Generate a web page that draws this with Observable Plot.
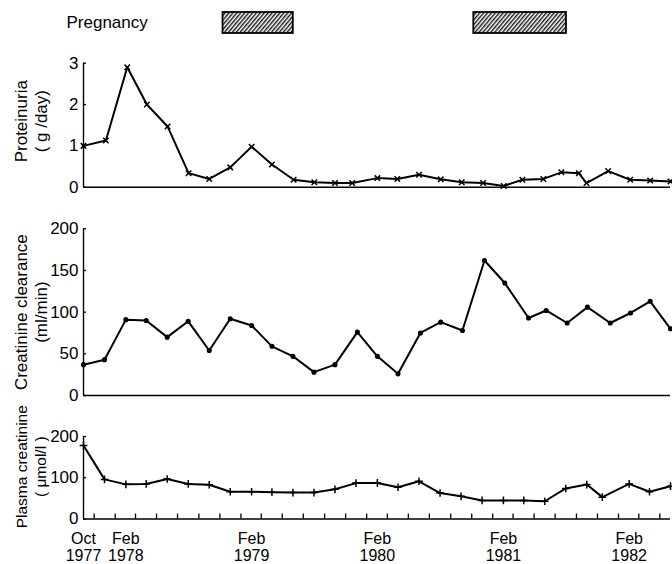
<!DOCTYPE html>
<html><head><meta charset="utf-8">
<script src="https://cdn.jsdelivr.net/npm/d3@7"></script>
<script src="https://cdn.jsdelivr.net/npm/@observablehq/plot@0.6"></script>
<style>
body{margin:0;background:#fff;}
#wrap{position:relative;width:672px;height:564px;font-family:"Liberation Sans",Arial,sans-serif;}
#wrap svg{position:absolute;left:0;overflow:visible;}
</style></head><body><div id="wrap"></div>
<script>
// ---- data ----
const xDomainStr = ["1977-10-01", "1982-06-01"];
const pregStart = ["1978-11-10", "1980-11-07"];
const pregEnd   = ["1979-06-02", "1981-08-03"];

const protDates = ["1977-10-01","1977-12-05","1978-02-05","1978-04-03","1978-06-02","1978-08-02","1978-10-01","1978-12-01","1979-02-01","1979-04-01","1979-06-03","1979-08-02","1979-10-01","1979-11-20","1980-02-01","1980-03-30","1980-06-01","1980-08-03","1980-10-03","1980-12-04","1981-02-02","1981-03-28","1981-05-28","1981-07-19","1981-09-08","1981-09-30","1981-12-02","1982-02-04","1982-04-03","1982-06-01"];
const protValues = [1.0,1.13,2.9,2.0,1.47,0.34,0.2,0.48,0.98,0.55,0.18,0.12,0.1,0.1,0.22,0.2,0.3,0.19,0.12,0.1,0.03,0.18,0.2,0.36,0.34,0.1,0.39,0.18,0.16,0.14];

const clearDates = ["1977-10-01","1977-12-01","1978-02-01","1978-04-01","1978-06-01","1978-08-01","1978-10-01","1978-12-01","1979-02-01","1979-04-01","1979-06-01","1979-08-01","1979-10-01","1979-12-05","1980-02-01","1980-04-01","1980-06-05","1980-08-03","1980-10-05","1980-12-08","1981-02-05","1981-04-15","1981-06-05","1981-08-05","1981-10-03","1981-12-08","1982-02-05","1982-04-03","1982-06-01"];
const clearValues = [37,43,91,90,70,89,54,92,84,59,47,28,37,76,47,26,75,88,78,162,135,93,102,87,106,87,99,113,80];

const plasmaDates = ["1977-10-01","1977-12-01","1978-02-01","1978-04-01","1978-06-01","1978-08-01","1978-10-01","1978-12-01","1979-02-01","1979-04-01","1979-06-01","1979-08-01","1979-10-01","1979-12-01","1980-02-01","1980-04-01","1980-06-01","1980-08-01","1980-10-01","1980-12-01","1981-02-01","1981-04-01","1981-06-01","1981-08-01","1981-10-01","1981-11-15","1982-02-01","1982-04-01","1982-06-01"];
const plasmaValues = [178,96,84,85,97,85,83,66,66,65,64,64,72,87,87.5,77,91.5,63,55,45,45,45,43,74,83.5,53,85,66,79.5];

const protTicks = [0,1,2,3];
const clearTicks = [0,50,100,150,200];
const plasmaTicks = [0,100,200];
const xLabelDates = ["1977-10-01","1978-02-01","1979-02-01","1980-02-01","1981-02-01","1982-02-01"];
const xLabelText = ["Oct\n1977","Feb\n1978","Feb\n1979","Feb\n1980","Feb\n1981","Feb\n1982"];
const pregLabel = "Pregnancy";
const protLabel = "Proteinuria\n( g /day)";
const clearLabel = "Creatinine clearance\n(ml/min)";
const plasmaLabel = "Plasma creatinine\n( μmol/l )";

// ---- build ----
const P = s => new Date(s + "T00:00:00Z");
const xDomain = xDomainStr.map(P);
const W = 672, ML = 83, MR = 2, FW = W - ML - MR;
const font = '"Liberation Sans", Arial, sans-serif';
const wrap = document.getElementById("wrap");
const baseStyle = {fontFamily: font, fontSize: "16px", color: "black", background: "transparent", overflow: "visible"};
const xOpt = {type: "utc", domain: xDomain, axis: null};

function place(svg, top) { svg.style.top = top + "px"; wrap.appendChild(svg); return svg; }

// Pregnancy strip
const preg = pregStart.map((s, i) => ({a: P(s), b: P(pregEnd[i])}));
const pregSvg = Plot.plot({
  width: W, height: 45, marginLeft: ML, marginRight: MR, marginTop: 12, marginBottom: 12,
  style: baseStyle, x: xOpt, y: {axis: null},
  marks: [
    Plot.rect(preg, {x1: "a", x2: "b", fill: "url(#hatch)", stroke: "black", strokeWidth: 1.8}),
    Plot.text([pregLabel], {text: d => d, frameAnchor: "left", dx: -17, textAnchor: "start", fontSize: 17})
  ]
});
const defs = document.createElementNS("http://www.w3.org/2000/svg", "defs");
defs.innerHTML = '<pattern id="hatch" patternUnits="userSpaceOnUse" width="3" height="3" patternTransform="rotate(40)"><rect width="3" height="3" fill="white"/><line x1="0.75" y1="-1" x2="0.75" y2="4" stroke="black" stroke-width="1.3"/></pattern>';
pregSvg.insertBefore(defs, pregSvg.firstChild);
place(pregSvg, 0);

function panel({top, height, mt, mb, yDomain, ticks, dates, values, symbol, r, fill, label, labelSize, labelDy, bottom}) {
  const rows = dates.map((d, i) => ({date: P(d), v: values[i]}));
  const fh = height - mt - mb;
  const marks = [
    Plot.axisY({ticks, tickSize: 0, tickPadding: 5, tickFormat: d => String(d), label: null, fontSize: 17}),
    Plot.tickY(ticks, {y: d => d, insetRight: FW - 3, strokeWidth: 1.3}),
    Plot.ruleX([xDomain[0]], {strokeWidth: 1.4}),
    Plot.ruleY([0], {strokeWidth: 1.4}),
    Plot.line(rows, {x: "date", y: "v", strokeWidth: 2, stroke: "black"}),
    Plot.dot(rows, {x: "date", y: "v", symbol, r, stroke: "black", fill, strokeWidth: 1.5}),
    Plot.text([label], {text: d => d, frameAnchor: "left", dx: -53, dy: labelDy, rotate: -90, textAnchor: "middle", lineHeight: 1.2, fontSize: labelSize})
  ];
  if (bottom) {
    const tickDates = d3.utcMonth.every(2).range(xDomain[0], d3.utcDay.offset(xDomain[1], 1));
    marks.push(Plot.tickX(tickDates, {x: d => d, insetTop: fh - 5, strokeWidth: 1.3}));
    const labMap = new Map(xLabelDates.map((d, i) => [+P(d), xLabelText[i]]));
    marks.push(Plot.axisX({ticks: xLabelDates.map(P), tickSize: 0, tickPadding: 13, tickFormat: d => labMap.get(+d), label: null, fontSize: 16, lineHeight: 1.05}));
  }
  return place(Plot.plot({
    width: W, height, marginLeft: ML, marginRight: MR, marginTop: mt, marginBottom: mb,
    style: baseStyle, x: xOpt, y: {domain: yDomain, axis: null},
    marks
  }), top);
}

panel({top: 50, height: 145, mt: 12.7, mb: 8.3, yDomain: [0, 3], ticks: protTicks,
  dates: protDates, values: protValues, symbol: "times", r: 2.6, fill: "none",
  label: protLabel, labelSize: 17, labelDy: -4});
panel({top: 210, height: 195, mt: 18.3, mb: 10, yDomain: [0, 200], ticks: clearTicks,
  dates: clearDates, values: clearValues, symbol: "circle", r: 1.8, fill: "black",
  label: clearLabel, labelSize: 17, labelDy: 0});
panel({top: 420, height: 144, mt: 16, mb: 45.5, yDomain: [0, 200], ticks: plasmaTicks,
  dates: plasmaDates, values: plasmaValues, symbol: "plus", r: 2.6, fill: "none",
  label: plasmaLabel, labelSize: 15.5, labelDy: -11, bottom: true});
</script></body></html>
